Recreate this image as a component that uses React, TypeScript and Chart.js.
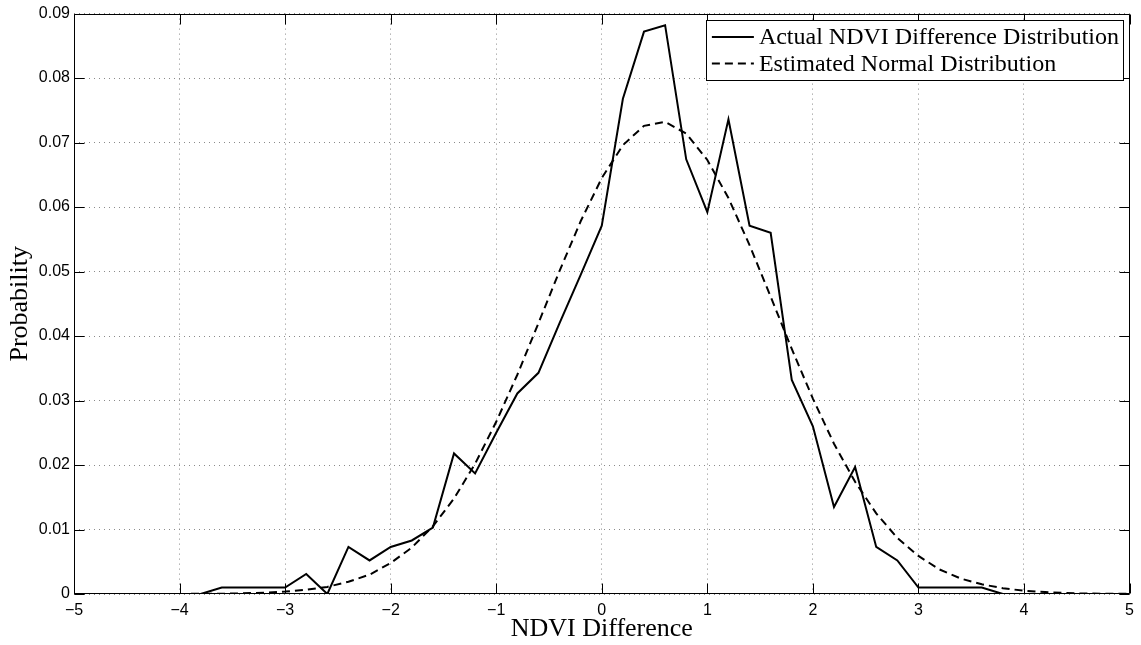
import React, { useEffect, useRef } from "react";
import { Chart, registerables } from "chart.js";

Chart.register(...registerables);

const xValues = [
  -5, -4.8, -4.6, -4.4, -4.2, -4, -3.8, -3.6, -3.4, -3.2, -3, -2.8, -2.6, -2.4, -2.2, -2, -1.8,
  -1.6, -1.4, -1.2, -1, -0.8, -0.6, -0.4, -0.2, 0, 0.2, 0.4, 0.6, 0.8, 1, 1.2, 1.4, 1.6, 1.8, 2,
  2.2, 2.4, 2.6, 2.8, 3, 3.2, 3.4, 3.6, 3.8, 4, 4.2, 4.4, 4.6, 4.8, 5,
];

const actualValues = [
  0, 0, 0, 0, 0, 0, 0, 0.001, 0.001, 0.001, 0.001, 0.0031, 0, 0.0073, 0.0052, 0.0073, 0.0083,
  0.0103, 0.0218, 0.0187, 0.025, 0.0311, 0.0343, 0.042, 0.0495, 0.0571, 0.0768, 0.0872, 0.0882,
  0.0674, 0.0592, 0.0736, 0.0571, 0.056, 0.0332, 0.026, 0.0135, 0.0197, 0.0073, 0.0052, 0.001,
  0.001, 0.001, 0.001, 0, 0, 0, 0, 0, 0, 0,
];

const normalValues = [
  0, 0, 0, 0, 0, 0.00001, 0.00003, 0.00005, 0.0001, 0.0002, 0.00037, 0.00065, 0.0011, 0.0019,
  0.003, 0.0048, 0.0072, 0.0105, 0.0148, 0.0202, 0.0267, 0.034, 0.042, 0.0501, 0.0578, 0.0645,
  0.0696, 0.0726, 0.0732, 0.0714, 0.0673, 0.0614, 0.0541, 0.0461, 0.038, 0.0303, 0.0233, 0.0174,
  0.0125, 0.0087, 0.0059, 0.0038, 0.0024, 0.0015, 0.0009, 0.0005, 0.0003, 0.00014, 0.00007,
  0.00004, 0.00002,
];

const seriesLabels = ["Actual NDVI Difference Distribution", "Estimated Normal Distribution"];
const xTitle = "NDVI Difference";
const yTitle = "Probability";

const SANS = "'Liberation Sans', Arial, sans-serif";
const SERIF = "'Liberation Serif', 'Times New Roman', serif";

const framePlugin = {
  id: "matlabFrame",
  afterDatasetsDraw(chart: any) {
    const { ctx, chartArea: a, scales } = chart;
    const L = Math.round(a.left) + 0.5;
    const R = Math.round(a.right) - 0.5;
    const T = Math.round(a.top) + 0.5;
    const B = Math.round(a.bottom) - 0.5;
    const tl = 10;
    ctx.save();
    ctx.strokeStyle = "#000";
    ctx.lineWidth = 1;
    ctx.setLineDash([]);
    ctx.beginPath();
    ctx.rect(L, T, R - L, B - T);
    for (const t of scales.x.ticks) {
      const px = Math.round(scales.x.getPixelForValue(t.value)) + 0.5;
      ctx.moveTo(px, B);
      ctx.lineTo(px, B - tl);
      ctx.moveTo(px, T);
      ctx.lineTo(px, T + tl);
    }
    for (const t of scales.y.ticks) {
      const py = Math.round(scales.y.getPixelForValue(t.value)) + 0.5;
      ctx.moveTo(L, py);
      ctx.lineTo(L + tl, py);
      ctx.moveTo(R, py);
      ctx.lineTo(R - tl, py);
    }
    ctx.stroke();
    ctx.restore();
  },
  afterDraw(chart: any) {
    const { ctx, chartArea: a } = chart;
    const ds = chart.data.datasets;
    ctx.save();
    ctx.font = `24px ${SERIF}`;
    const sample = 42;
    const padL = 6;
    const gap = 5;
    const padR = 4;
    let maxW = 0;
    for (const d of ds) maxW = Math.max(maxW, ctx.measureText(d.label).width);
    const w = padL + sample + gap + maxW + padR;
    const h = 60;
    const right = Math.round(a.right) - 7;
    const x0 = right - w;
    const y0 = Math.round(a.top) + 6;
    ctx.fillStyle = "#fff";
    ctx.fillRect(x0, y0, w, h);
    ctx.strokeStyle = "#000";
    ctx.lineWidth = 1;
    ctx.setLineDash([]);
    ctx.strokeRect(Math.round(x0) + 0.5, y0 + 0.5, Math.round(w), h);
    const rows = [y0 + 17, y0 + 43.5];
    ds.forEach((d: any, i: number) => {
      const cy = rows[i];
      ctx.beginPath();
      ctx.strokeStyle = d.borderColor;
      ctx.lineWidth = d.borderWidth;
      ctx.setLineDash(d.borderDash || []);
      ctx.moveTo(x0 + padL, cy);
      ctx.lineTo(x0 + padL + sample, cy);
      ctx.stroke();
      ctx.setLineDash([]);
      ctx.fillStyle = "#000";
      ctx.textBaseline = "middle";
      ctx.textAlign = "left";
      ctx.fillText(d.label, x0 + padL + sample + gap, cy + 1);
    });
    ctx.restore();
  },
};

export default function App() {
  const canvasRef = useRef<HTMLCanvasElement | null>(null);

  useEffect(() => {
    const canvas = canvasRef.current;
    if (!canvas) return;
    const chart = new Chart(canvas, {
      type: "line",
      data: {
        datasets: [
          {
            label: seriesLabels[0],
            data: xValues.map((x, i) => ({ x, y: actualValues[i] })),
            borderColor: "#000",
            borderWidth: 2,
            pointRadius: 0,
            tension: 0,
            fill: false,
          },
          {
            label: seriesLabels[1],
            data: xValues.map((x, i) => ({ x, y: normalValues[i] })),
            borderColor: "#000",
            borderWidth: 2,
            borderDash: [8, 5],
            pointRadius: 0,
            tension: 0,
            fill: false,
          },
        ],
      },
      options: {
        responsive: false,
        animation: false,
        events: [],
        layout: { padding: { top: 12, right: 8, left: 0, bottom: 0 } },
        plugins: {
          legend: { display: false },
          tooltip: { enabled: false },
        },
        scales: {
          x: {
            type: "linear",
            min: -5,
            max: 5,
            ticks: {
              stepSize: 1,
              color: "#000",
              padding: 7,
              maxRotation: 0,
              font: { family: SANS, size: 16 },
              callback: (v: any) => (Number(v) < 0 ? "\u2212" + Math.abs(Number(v)) : String(v)),
            },
            grid: { color: "#8a8a8a", lineWidth: 1, drawTicks: false },
            border: { display: false, dash: [1, 4] },
            title: {
              display: true,
              text: xTitle,
              color: "#000",
              font: { family: SERIF, size: 26 },
              padding: { top: 0, bottom: 0 },
            },
            afterFit: (s: any) => {
              s.height = 51;
            },
          },
          y: {
            type: "linear",
            min: 0,
            max: 0.09,
            ticks: {
              stepSize: 0.01,
              color: "#000",
              padding: 4,
              font: { family: SANS, size: 16 },
              callback: (v: any) => (Number(v) === 0 ? "0" : Number(v).toFixed(2)),
            },
            grid: { color: "#8a8a8a", lineWidth: 1, drawTicks: false },
            border: { display: false, dash: [1, 4] },
            title: {
              display: true,
              text: yTitle,
              color: "#000",
              font: { family: SERIF, size: 26 },
              padding: { top: 5, bottom: 0 },
            },
            afterFit: (s: any) => {
              s.width = 74;
            },
          },
        },
      },
      plugins: [framePlugin],
    });
    return () => chart.destroy();
  }, []);

  return (
    <div style={{ position: "absolute", left: 0, top: 0, width: 1141, height: 645, background: "#fff" }}>
      <canvas ref={canvasRef} width={1141} height={645} />
    </div>
  );
}
